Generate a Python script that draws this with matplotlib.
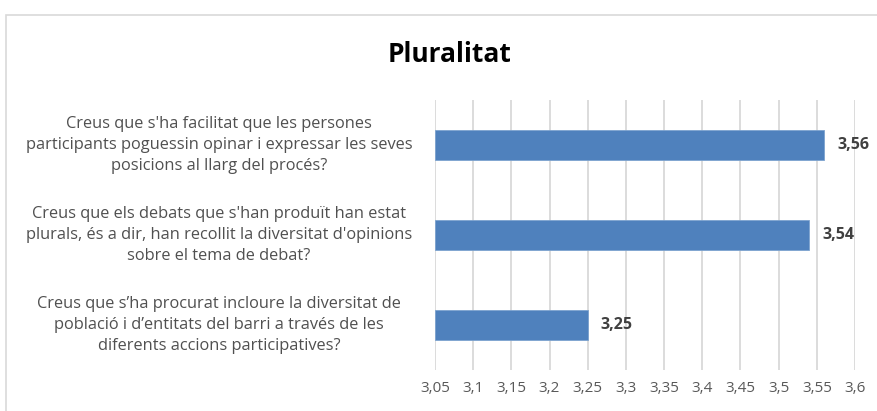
import matplotlib
matplotlib.use("Agg")
import matplotlib.pyplot as plt
from matplotlib.patches import Rectangle

plt.rcParams['font.family'] = ['Open Sans', 'DejaVu Sans']

title = "Pluralitat"
categories = [
    "Creus que s'ha facilitat que les persones\nparticipants poguessin opinar i expressar les seves\nposicions al llarg del procés?",
    "Creus que els debats que s'han produït han estat\nplurals, és a dir, han recollit la diversitat d'opinions\nsobre el tema de debat?",
    "Creus que s’ha procurat incloure la diversitat de\npoblació i d’entitats del barri a través de les\ndiferents accions participatives?",
]
values = [3.56, 3.54, 3.25]
value_labels = ["3,56", "3,54", "3,25"]
xticks = [3.05, 3.1, 3.15, 3.2, 3.25, 3.3, 3.35, 3.4, 3.45, 3.5, 3.55, 3.6]
xtick_labels = ["3,05", "3,1", "3,15", "3,2", "3,25", "3,3", "3,35", "3,4", "3,45", "3,5", "3,55", "3,6"]

W, H = 877, 411
fig = plt.figure(figsize=(W / 100, H / 100), dpi=100)
fig.patch.set_facecolor('white')

# chart border
fig.add_artist(Rectangle((6 / W, -0.05), 1.1, 1 - 15 / H + 0.05, transform=fig.transFigure,
                         fill=False, edgecolor='#d9d9d9', linewidth=1.2))

ax = fig.add_axes([435 / W, 1 - 370 / H, (855 - 435) / W, (370 - 100) / H])
xmin, xmax = xticks[0], xticks[-1]
ypos = list(range(len(categories)))
ax.barh(ypos, [v - xmin for v in values], left=xmin, height=0.34,
        color='#4F81BD', edgecolor='#7da3cf', linewidth=0.6, zorder=3)
ax.set_xlim(xmin, xmax)
ax.set_ylim(len(categories) - 0.5, -0.5)
ax.set_xticks(xticks)
ax.set_xticklabels(xtick_labels, fontsize=11, color='#595959')
ax.set_yticks([])
ax.tick_params(axis='x', length=0, pad=8)
for s in ax.spines.values():
    s.set_visible(False)
ax.grid(axis='x', color='#d9d9d9', linewidth=1.3, zorder=0)
ax.set_axisbelow(True)

for y, v, lab in zip(ypos, values, value_labels):
    ax.annotate(lab, (v, y), xytext=(13, 0), textcoords='offset pixels',
                va='center', ha='left', fontsize=11.5, fontweight='bold', color='#404040')

for y, cat in zip(ypos, categories):
    yfig = ax.transData.transform((xmin, y))[1]
    fig.text(219 / W, yfig / H, cat, ha='center', va='center', fontsize=11.8,
             color='#505050', linespacing=1.38)

fig.text(450 / W, 1 - 55 / H, title, ha='center', va='center', fontsize=19,
         fontweight='bold', color='black')

fig.savefig('out.png', dpi=100)
